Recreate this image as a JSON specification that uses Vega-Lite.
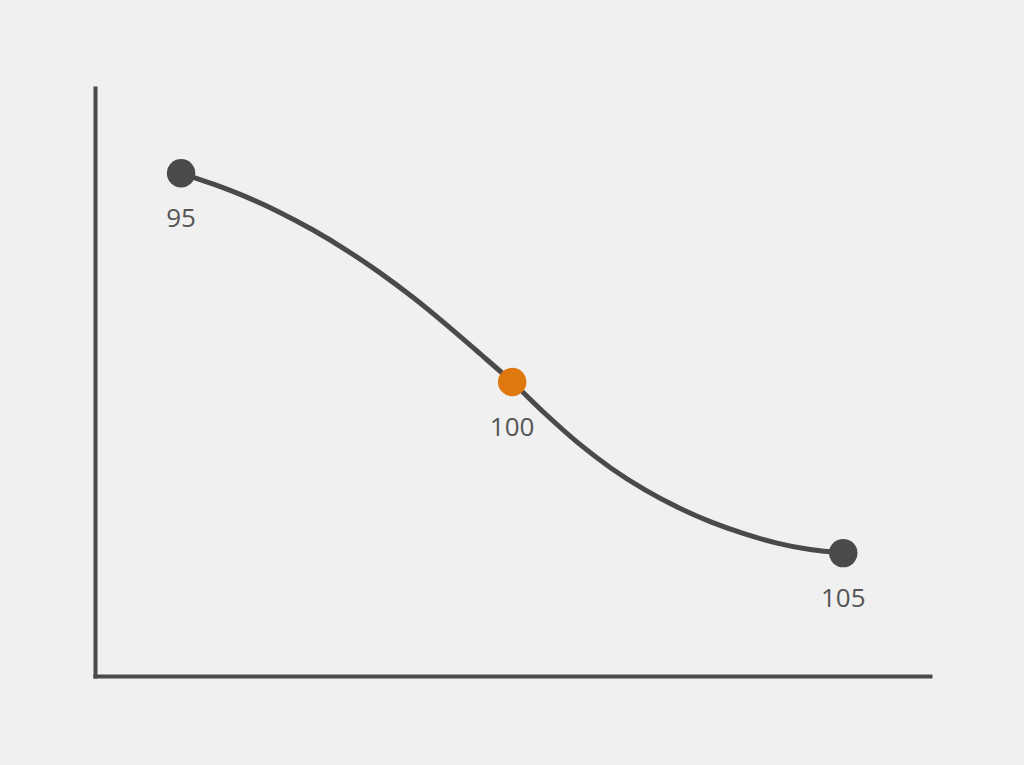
{
  "$schema": "https://vega.github.io/schema/vega-lite/v6.json",
  "width": 835,
  "height": 588,
  "autosize": {"type": "none"},
  "padding": {"left": 95, "top": 88, "right": 94, "bottom": 89},
  "background": "#eff0ef",
  "config": {
    "view": {"stroke": null},
    "axis": {"domainColor": "#4a4a4a", "domainWidth": 4, "domainCap": "square", "ticks": false, "labels": false, "grid": false, "title": null}
  },
  "datasets": {
    "curve": [
      {"x": 95.0, "y": 85.5},
      {"x": 95.5, "y": 83.6},
      {"x": 96.0, "y": 81.4},
      {"x": 96.5, "y": 78.8},
      {"x": 97.0, "y": 75.8},
      {"x": 97.5, "y": 72.4},
      {"x": 98.0, "y": 68.6},
      {"x": 98.5, "y": 64.4},
      {"x": 99.0, "y": 59.8},
      {"x": 99.5, "y": 54.95},
      {"x": 100.0, "y": 50.0},
      {"x": 100.5, "y": 44.6},
      {"x": 101.0, "y": 39.6},
      {"x": 101.5, "y": 35.3},
      {"x": 102.0, "y": 31.7},
      {"x": 102.5, "y": 28.7},
      {"x": 103.0, "y": 26.2},
      {"x": 103.5, "y": 24.2},
      {"x": 104.0, "y": 22.6},
      {"x": 104.5, "y": 21.5},
      {"x": 105.0, "y": 20.9}
    ],
    "points": [
      {"x": 95, "y": 85.5, "label": "95", "highlight": "no"},
      {"x": 100, "y": 50.0, "label": "100", "highlight": "yes"},
      {"x": 105, "y": 20.9, "label": "105", "highlight": "no"}
    ]
  },
  "layer": [
    {
      "data": {"name": "curve"},
      "mark": {"type": "line", "interpolate": "monotone", "color": "#4a4a4a", "strokeWidth": 5},
      "encoding": {
        "x": {"field": "x", "type": "quantitative", "scale": {"domain": [93.7, 106.31], "nice": false, "zero": false}, "axis": {"orient": "bottom"}},
        "y": {"field": "y", "type": "quantitative", "scale": {"domain": [0, 100], "nice": false}, "axis": {"orient": "left"}}
      }
    },
    {
      "data": {"name": "points"},
      "mark": {"type": "circle", "size": 810, "opacity": 1},
      "encoding": {
        "x": {"field": "x", "type": "quantitative"},
        "y": {"field": "y", "type": "quantitative"},
        "color": {"field": "highlight", "type": "nominal", "scale": {"domain": ["no", "yes"], "range": ["#4a4a4a", "#e07810"]}, "legend": null}
      }
    },
    {
      "data": {"name": "points"},
      "mark": {"type": "text", "font": "Open Sans", "fontSize": 26, "color": "#555555", "align": "center", "baseline": "alphabetic", "dy": 54},
      "encoding": {
        "x": {"field": "x", "type": "quantitative"},
        "y": {"field": "y", "type": "quantitative"},
        "text": {"field": "label", "type": "nominal"}
      }
    }
  ]
}
